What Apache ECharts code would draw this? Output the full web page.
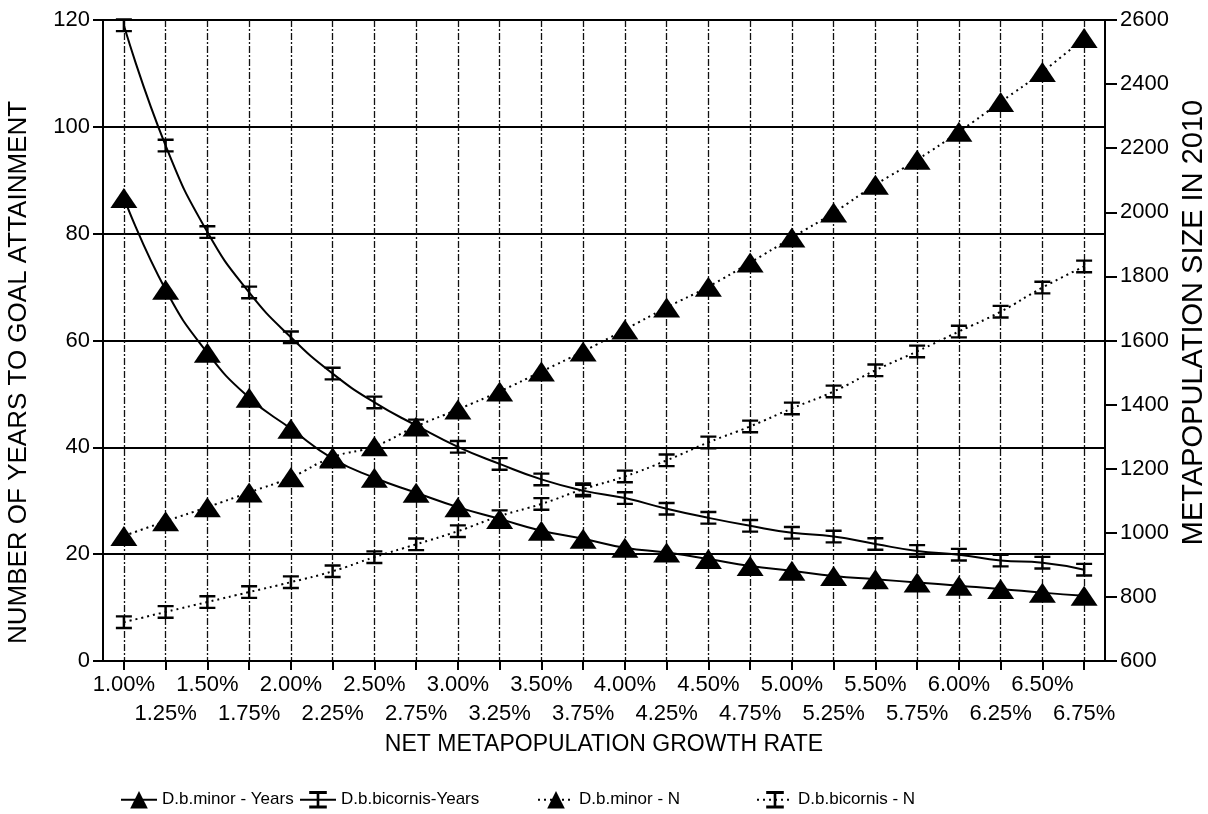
<!DOCTYPE html>
<html>
<head>
<meta charset="utf-8">
<script src="https://cdn.jsdelivr.net/npm/echarts@6/dist/echarts.min.js"></script>
<style>
  html, body { margin: 0; padding: 0; background: #ffffff; }
  #chart { width: 1208px; height: 814px; }
</style>
</head>
<body>
<div id="chart"></div>
<script>
// Net metapopulation growth rate (x categories)
const growthRates = ['1.00%', '1.25%', '1.50%', '1.75%', '2.00%', '2.25%', '2.50%', '2.75%',
  '3.00%', '3.25%', '3.50%', '3.75%', '4.00%', '4.25%', '4.50%', '4.75%',
  '5.00%', '5.25%', '5.50%', '5.75%', '6.00%', '6.25%', '6.50%', '6.75%'];

// Years to goal attainment (left axis)
const minorYears = [86.7, 69.5, 57.7, 49.3, 43.5, 37.9, 34.3, 31.5, 28.8, 26.6, 24.4, 22.9,
  21.2, 20.3, 19.1, 17.8, 16.9, 15.9, 15.3, 14.7, 14.1, 13.5, 12.8, 12.2];
const bicornisYears = [119, 96.5, 80.3, 69.0, 60.6, 53.8, 48.4, 44.1, 40.1, 36.9, 34.0, 31.9,
  30.5, 28.5, 26.8, 25.3, 24.0, 23.3, 21.9, 20.6, 19.9, 18.8, 18.4, 17.1];

// Metapopulation size in 2010 (right axis)
const minorN = [990, 1036, 1080, 1126, 1173, 1236, 1270, 1332, 1385, 1441, 1503, 1566,
  1634, 1703, 1768, 1843, 1921, 1999, 2086, 2164, 2251, 2344, 2438, 2544];
const bicornisN = [721, 753, 784, 815, 846, 880, 924, 964, 1005, 1052, 1090, 1136,
  1176, 1226, 1282, 1332, 1388, 1441, 1507, 1566, 1628, 1690, 1765, 1831];

// Error-bar style marker: top bar, stem, bottom bar
const barMarker = 'path://M0,0H16V2.4H0Z M6.8,0H9.2V14H6.8Z M0,11.6H16V14H0Z';

const FONT = '"Liberation Sans", Arial, Helvetica, sans-serif';

const chart = echarts.init(document.getElementById('chart'), null, { renderer: 'canvas' });

const legendBase = {
  top: 786,
  itemWidth: 36,
  itemHeight: 22,
  textStyle: { fontFamily: FONT, fontSize: 17, color: '#000' }
};

chart.setOption({
  animation: false,
  backgroundColor: '#ffffff',
  textStyle: { fontFamily: FONT, color: '#000' },
  grid: { left: 103, right: 103, top: 20, bottom: 153, containLabel: false, outerBoundsMode: 'none' },
  legend: [
    Object.assign({ left: 115, data: ['D.b.minor - Years'] }, legendBase),
    Object.assign({ left: 294, data: ['D.b.bicornis-Years'] }, legendBase),
    Object.assign({ left: 532, data: ['D.b.minor - N'] }, legendBase),
    Object.assign({ left: 751, data: ['D.b.bicornis - N'] }, legendBase)
  ],
  xAxis: {
    type: 'category',
    data: growthRates,
    boundaryGap: true,
    name: 'NET METAPOPULATION GROWTH RATE',
    nameLocation: 'middle',
    nameGap: 68,
    nameTextStyle: { fontFamily: FONT, fontSize: 23, color: '#000' },
    axisLine: { lineStyle: { color: '#000', width: 2 } },
    axisTick: { show: true, alignWithLabel: true, interval: 0, length: 9, lineStyle: { color: '#000', width: 2 } },
    axisLabel: {
      interval: 0,
      margin: 9,
      fontFamily: FONT,
      fontSize: 22,
      lineHeight: 29,
      color: '#000',
      formatter: (v, i) => (i % 2 === 1 ? '\n' + v : v)
    },
    splitLine: {
      show: true,
      alignWithLabel: true,
      interval: 0,
      lineStyle: { color: '#111', width: 1.3, type: [7, 2, 2, 2] }
    }
  },
  yAxis: [
    {
      type: 'value',
      position: 'left',
      min: 0, max: 120, interval: 20,
      name: 'NUMBER OF YEARS TO GOAL ATTAINMENT',
      nameLocation: 'middle',
      nameRotate: 90,
      nameGap: 71,
      nameTextStyle: { fontFamily: FONT, fontSize: 26, color: '#000', padding: [0, 64, 0, 0] },
      axisLine: { show: true, lineStyle: { color: '#000', width: 2 } },
      axisTick: { show: true, length: 10, lineStyle: { color: '#000', width: 2 } },
      axisLabel: { margin: 13, fontFamily: FONT, fontSize: 22, color: '#000' },
      splitLine: { show: true, lineStyle: { color: '#000', width: 2 } }
    },
    {
      type: 'value',
      position: 'right',
      min: 600, max: 2600, interval: 200,
      name: 'METAPOPULATION SIZE IN 2010',
      nameLocation: 'middle',
      nameRotate: 90,
      nameGap: 72,
      nameTextStyle: { fontFamily: FONT, fontSize: 29, color: '#000', padding: [0, 0, 0, 36] },
      axisLine: { show: true, lineStyle: { color: '#000', width: 2 } },
      axisTick: { show: true, length: 12, lineStyle: { color: '#000', width: 2 } },
      axisLabel: { margin: 15, fontFamily: FONT, fontSize: 22, color: '#000', formatter: (v) => String(v) },
      splitLine: { show: false }
    }
  ],
  series: [
    {
      name: 'D.b.minor - Years',
      type: 'line',
      yAxisIndex: 0,
      data: minorYears,
      smooth: true,
      symbol: 'triangle',
      symbolSize: [27, 20],
      itemStyle: { color: '#000' },
      lineStyle: { color: '#000', width: 2 },
      z: 4
    },
    {
      name: 'D.b.bicornis-Years',
      type: 'line',
      yAxisIndex: 0,
      data: bicornisYears,
      smooth: true,
      symbol: barMarker,
      symbolSize: [16, 14],
      itemStyle: { color: '#000' },
      lineStyle: { color: '#000', width: 2 },
      z: 3
    },
    {
      name: 'D.b.minor - N',
      type: 'line',
      yAxisIndex: 1,
      data: minorN,
      smooth: true,
      symbol: 'triangle',
      symbolSize: [27, 20],
      itemStyle: { color: '#000' },
      lineStyle: { color: '#000', width: 2, type: [2, 4] },
      z: 4
    },
    {
      name: 'D.b.bicornis - N',
      type: 'line',
      yAxisIndex: 1,
      data: bicornisN,
      smooth: true,
      symbol: barMarker,
      symbolSize: [16, 14],
      itemStyle: { color: '#000' },
      lineStyle: { color: '#000', width: 2, type: [2, 4] },
      z: 3
    }
  ]
});
</script>
</body>
</html>
